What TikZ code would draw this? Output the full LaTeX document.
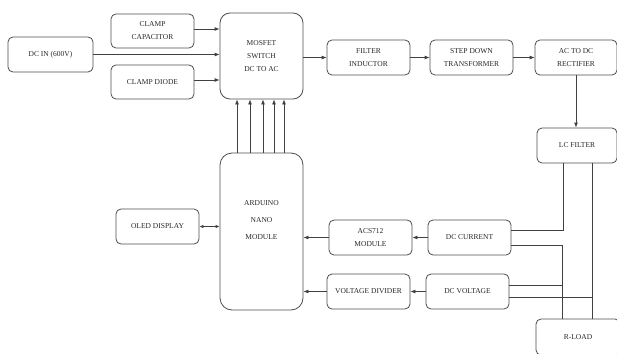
\documentclass[tikz,border=0pt]{standalone}
\usepackage{fontspec}
\setmainfont{Liberation Serif}
\usetikzlibrary{arrows.meta}
\tikzset{					% Block diagram styles
	block/.style={draw=black!70,line width=0.8pt,rounded corners=5pt,align=center,
		minimum width=83pt,minimum height=35pt,inner sep=1pt,text=black!85,
		font=\fontsize{7.5}{13}\selectfont},
	wire/.style={draw=black!75,line width=0.8pt},
	feed/.style={wire,-{Latex[length=5pt,width=4pt]}}
}

\begin{document}
\begin{tikzpicture}[x=1pt,y=-1pt]
	\useasboundingbox (0,0) rectangle (617,353);
	% input side
	\node[block,minimum width=85pt] (dcin) at (50.5,54.5) {DC IN (600V)};
	\node[block,minimum height=34pt] (clampcap) at (152.5,31) {CLAMP\\CAPACITOR};
	\node[block,minimum height=34pt] (clampdiode) at (152.5,82) {CLAMP DIODE};
	\node[block,minimum height=86pt,rounded corners=10pt] (mosfet) at (261.5,56) {MOSFET\\SWITCH\\DC TO AC};
	% power chain
	\node[block] (filterind) at (368.5,57.5) {FILTER\\INDUCTOR};
	\node[block] (stepdown) at (471.5,57.5) {STEP DOWN\\TRANSFORMER};
	\node[block,minimum width=82pt] (rectifier) at (576,57.5) {AC TO DC\\RECTIFIER};
	\node[block,minimum width=80pt] (lcfilter) at (577,145.5) {LC FILTER};
	\node[block,minimum width=84pt,minimum height=36pt] (rload) at (578,337) {R-LOAD};
	% sensing and control
	\node[block,minimum height=157pt,rounded corners=12pt,
		label={[align=center,yshift=11pt,text=black!85,font=\fontsize{7.5}{17}\selectfont]center:ARDUINO\\NANO\\MODULE}] (arduino) at (261.5,231.5) {};
	\node[block] (oled) at (157.5,226.5) {OLED DISPLAY};
	\node[block] (acs) at (370.5,237.5) {ACS712\\MODULE};
	\node[block] (dccurrent) at (469.5,237.5) {DC CURRENT};
	\node[block] (vdivider) at (368.5,291.5) {VOLTAGE DIVIDER};
	\node[block] (dcvoltage) at (467.5,291.5) {DC VOLTAGE};

	% arrows into the switch
	\draw[feed] (clampcap.east |- 0,29) -- (mosfet.west |- 0,29);
	\draw[feed] (dcin.east) -- (mosfet.west |- dcin.east);
	\draw[feed] (clampdiode.east |- 0,80) -- (mosfet.west |- 0,80);
	\foreach \dx in {-24.5,-11.5,1.5,12.5,22.5}
		\draw[feed] ([xshift=\dx pt]arduino.north) -- ([xshift=\dx pt]mosfet.south);
	% power path
	\draw[feed] (mosfet.east |- filterind.west) -- (filterind.west);
	\draw[feed] (filterind) -- (stepdown);
	\draw[feed] (stepdown) -- (rectifier);
	\draw[feed] (rectifier.south) -- (rectifier.south |- lcfilter.north);
	% measurement path
	\draw[wire,{Latex[length=4pt,width=3.5pt]}-{Latex[length=4pt,width=3.5pt]}] (oled.east) -- (arduino.west |- oled.east);
	\draw[feed] (dccurrent) -- (acs);
	\draw[feed] (acs.west) -- (arduino.east |- acs.west);
	\draw[feed] (dcvoltage) -- (vdivider);
	\draw[feed] (vdivider.west) -- (arduino.east |- vdivider.west);
	% load wiring
	\coordinate (jl) at ([xshift=-16pt]rload.north);
	\coordinate (jr) at ([xshift=14pt]rload.north);
	\coordinate (vtop) at ([yshift=6.5pt]dcvoltage.east);
	\coordinate (vbot) at ([yshift=-5.5pt]dcvoltage.east);
	\draw[wire] ([xshift=-14pt]lcfilter.south) |- ([yshift=7.5pt]dccurrent.east);
	\draw[wire] (lcfilter.south -| jr) -- (jr);
	\draw[wire] ([yshift=-7.5pt]dccurrent.east) -| (jl);
	\draw[wire] (vtop) -- (vtop -| jl);
	\draw[wire] (vbot) -- (vbot -| jr);
\end{tikzpicture}
\end{document}
